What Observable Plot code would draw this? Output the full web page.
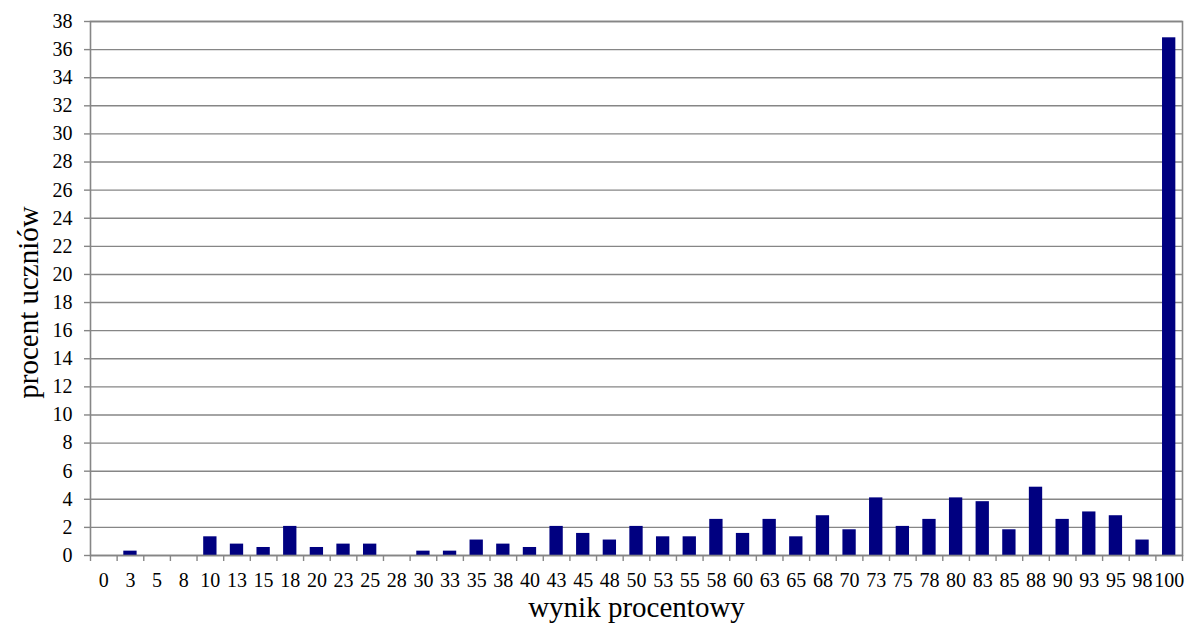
<!DOCTYPE html>
<html>
<head>
<meta charset="utf-8">
<script src="https://cdn.jsdelivr.net/npm/d3@7"></script>
<script src="https://cdn.jsdelivr.net/npm/@observablehq/plot@0.6"></script>
<style>
  html, body { margin: 0; padding: 0; background: #fff; overflow: hidden; }
  svg { display: block; }
</style>
</head>
<body>
<div id="chart"></div>
<script>
const scores = ["0","3","5","8","10","13","15","18","20","23","25","28","30","33","35","38","40","43","45","48","50","53","55","58","60","63","65","68","70","73","75","78","80","83","85","88","90","93","95","98","100"];
const percents = [0,0.31,0,0,1.33,0.81,0.57,2.07,0.57,0.81,0.81,0,0.31,0.31,1.1,0.81,0.57,2.07,1.57,1.1,2.07,1.33,1.33,2.57,1.57,2.57,1.33,2.83,1.83,4.1,2.07,2.57,4.1,3.83,1.83,4.86,2.57,3.1,2.83,1.1,36.84];
const yTicks = d3.range(0, 39, 2);
const xTitle = "wynik procentowy";
const yTitle = "procent uczniów";

const data = scores.map((s, i) => ({score: s, pct: percents[i]}));

const W = 1189, H = 626, mL = 90, mR = 7, mT = 21, mB = 71;
const step = (W - mL - mR) / scores.length;
const gray = "#868686";

const chart = Plot.plot({
  width: W, height: H,
  marginLeft: mL, marginRight: mR, marginTop: mT, marginBottom: mB,
  style: {fontFamily: "'Liberation Serif', 'Times New Roman', serif", fontSize: "20px", background: "#fff", color: "#000"},
  x: {domain: scores, padding: 0, round: false, label: null},
  y: {domain: [0, 38], label: null},
  marks: [
    Plot.gridY(yTicks, {stroke: gray, strokeOpacity: 1, strokeWidth: 1.4}),
    Plot.barY(data, {x: "score", y: "pct", fill: "#000080", insetLeft: step / 4, insetRight: step / 4}),
    Plot.frame({stroke: gray, strokeWidth: 1.6}),
    Plot.axisY(yTicks, {tickSize: 6, tickPadding: 12, stroke: gray, strokeWidth: 1.4, fill: "#000", fontSize: 20}),
    Plot.axisX(scores, {tickSize: 6, tickFormat: () => "", dx: -step / 2, stroke: gray, strokeWidth: 1.4}),
    Plot.axisX(scores.slice(-1), {tickSize: 6, tickFormat: () => "", dx: step / 2, stroke: gray, strokeWidth: 1.4}),
    Plot.axisX({tickSize: 0, tickPadding: 17, fill: "#000", fontSize: 20}),
    Plot.text([xTitle], {frameAnchor: "bottom", textAnchor: "middle", lineAnchor: "middle", dy: 52, fontSize: 29, fill: "#000"}),
    Plot.text([yTitle], {frameAnchor: "left", textAnchor: "middle", lineAnchor: "middle", dx: -62, dy: 14, rotate: -90, fontSize: 29, fill: "#000"})
  ]
});
document.getElementById("chart").appendChild(chart);
</script>
</body>
</html>
